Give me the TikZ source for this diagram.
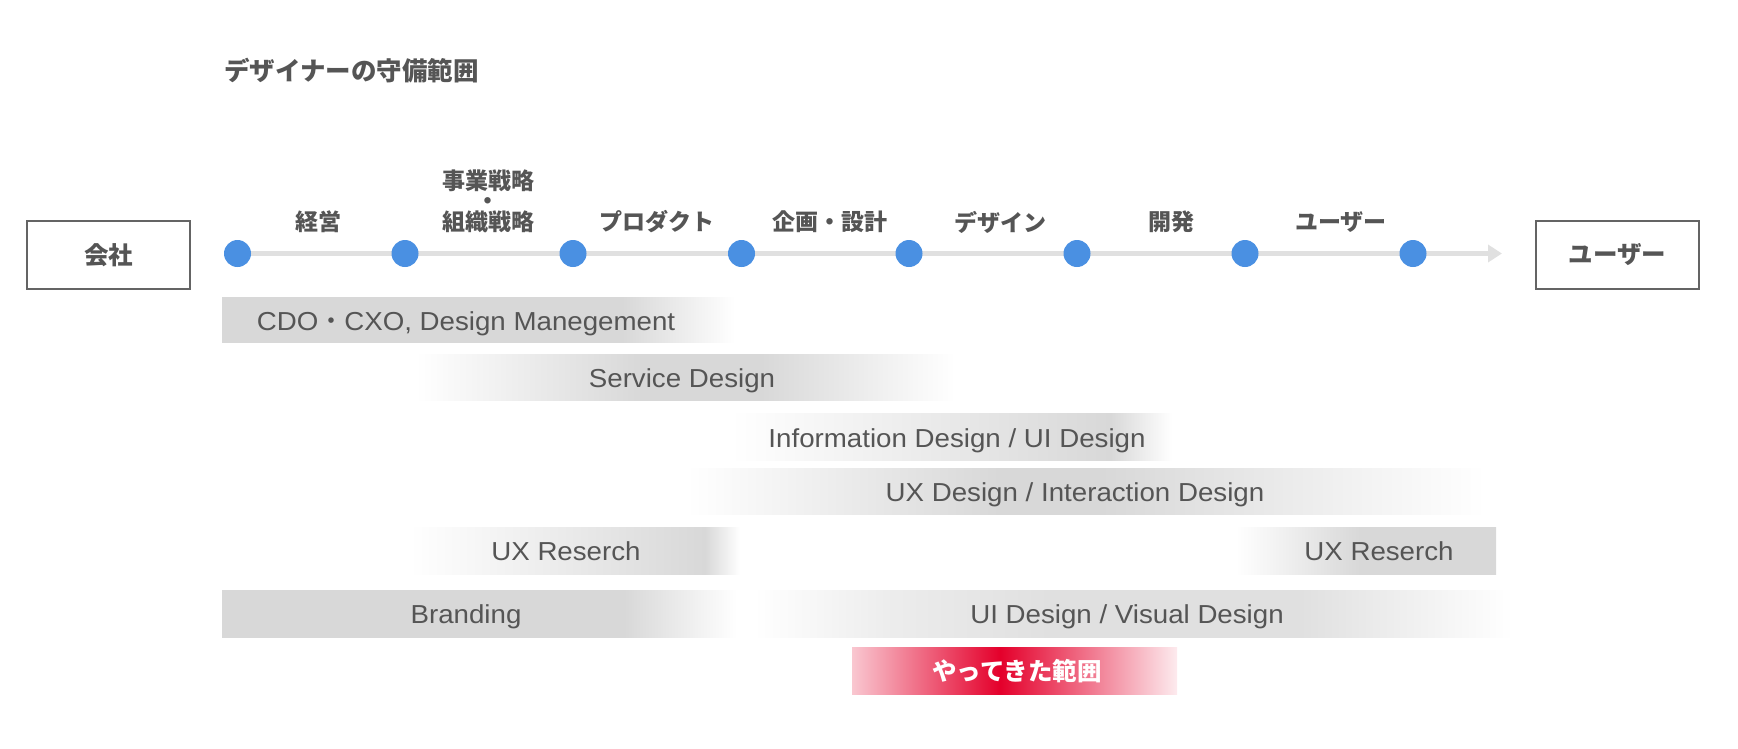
\documentclass[tikz,border=0pt]{standalone}
\usepackage{fontspec}
\setmainfont{Liberation Sans}
\newfontfamily\jp{Noto Sans CJK JP}
\newfontfamily\bartext[FakeStretch=1.065]{Liberation Sans}
\usetikzlibrary{arrows.meta,backgrounds}
\definecolor{txt}{RGB}{85,85,85}
\definecolor{barg}{RGB}{216,216,216}
\definecolor{barl}{RGB}{224,224,224}
\definecolor{dotblue}{RGB}{74,144,226}
\definecolor{linegray}{RGB}{224,224,224}
\definecolor{boxline}{RGB}{100,100,100}
\definecolor{redbar}{RGB}{228,0,43}
\pgfdeclarehorizontalshading{shA}{100bp}{color(0bp)=(barg); color(25bp)=(barg); color(64bp)=(barg); color(75bp)=(white); color(100bp)=(white)}
\pgfdeclarehorizontalshading{shB}{100bp}{color(0bp)=(white); color(25bp)=(white); color(46bp)=(barg); color(57bp)=(barg); color(75bp)=(white); color(100bp)=(white)}
\pgfdeclarehorizontalshading{shC}{100bp}{color(0bp)=(white); color(25bp)=(white); color(68bp)=(barg); color(75bp)=(white); color(100bp)=(white)}
\pgfdeclarehorizontalshading{shD}{100bp}{color(0bp)=(white); color(25bp)=(white); color(44.6bp)=(barg); color(50.9bp)=(barg); color(75bp)=(white); color(100bp)=(white)}
\pgfdeclarehorizontalshading{shE}{100bp}{color(0bp)=(white); color(25bp)=(white); color(69.7bp)=(barg); color(75bp)=(white); color(100bp)=(white)}
\pgfdeclarehorizontalshading{shF}{100bp}{color(0bp)=(white); color(25bp)=(white); color(48.8bp)=(barg); color(75bp)=(barg); color(100bp)=(barg)}
\pgfdeclarehorizontalshading{shG}{100bp}{color(0bp)=(white); color(25bp)=(white); color(34bp)=(barl!60!white); color(44.5bp)=(barl); color(61bp)=(barl); color(75bp)=(white); color(100bp)=(white)}
\pgfdeclarehorizontalshading{shR}{100bp}{color(0bp)=(redbar!22!white); color(25bp)=(redbar!22!white); color(47.8bp)=(redbar); color(75bp)=(redbar!8!white); color(100bp)=(redbar!8!white)}
\begin{document}
\begin{tikzpicture}[x=1pt,y=-1pt,
  jlabel/.style={font=\jp\bfseries\fontsize{23}{23}\selectfont, text=txt, inner sep=0pt},
  endbox/.style={draw=boxline, line width=1.6pt, minimum width=163pt, minimum height=68pt,
    font=\jp\bfseries\fontsize{24.5}{24.5}\selectfont, text=txt, inner sep=0pt},
  stage/.style={circle, fill=dotblue, minimum size=27pt, inner sep=0pt},
  bartxt/.style={font=\bartext\fontsize{26}{26}\selectfont, text=txt, inner sep=0pt, anchor=base},
  redtxt/.style={font=\jp\bfseries\fontsize{24.5}{24.5}\selectfont, text=white, inner sep=0pt},
]
\useasboundingbox (0,0) rectangle (1738,748);
% title
\node[jlabel, font=\jp\bfseries\fontsize{25.5}{25.5}\selectfont, anchor=west] (title) at (224,71) {デザイナーの守備範囲};
% end boxes
\node[endbox] (company) at (108.5,255) {会社};
\node[endbox] (user) at (1617.5,255) {ユーザー};
% stages
\node[stage] (d1) at (237.5,253.5) {};
\node[stage] (d2) at (405,253.5) {};
\node[stage] (d3) at (573,253.5) {};
\node[stage] (d4) at (741.5,253.5) {};
\node[stage] (d5) at (909,253.5) {};
\node[stage] (d6) at (1077,253.5) {};
\node[stage] (d7) at (1245,253.5) {};
\node[stage] (d8) at (1413,253.5) {};
\coordinate (tip) at (1502,253.5);
\begin{scope}[on background layer]
\draw[linegray, line width=5.5pt, -{Triangle[width=17pt,length=14pt]}] (d1.center) -- (tip);
\end{scope}
% stage labels
\node[jlabel] (l1) at (318,222) {経営};
\node[jlabel, align=center, font=\jp\bfseries\fontsize{23}{20.5}\selectfont] (l2) at (488,201) {事業戦略\\・\\組織戦略};
\node[jlabel] (l3) at (657,222) {プロダクト};
\node[jlabel] (l4) at (830,222) {企画・設計};
\node[jlabel] (l5) at (1000,222) {デザイン};
\node[jlabel] (l6) at (1171,222) {開発};
\node[jlabel] (l7) at (1341,222) {ユーザー};
% bars
\path[shading=shA] (222,297) rectangle (735,342);
\path[shading=shB] (416,354) rectangle (955,400);
\path[shading=shC] (731,413) rectangle (1172,460);
\path[shading=shD] (687,468) rectangle (1485,514);
\path[shading=shE] (410,527) rectangle (740,574);
\path[shading=shF] (1236,527) rectangle (1496,574);
\path[shading=shA] (222,590) rectangle (737,637);
\path[shading=shG] (754,590) rectangle (1513,637);
\path[shading=shR] (852,647) rectangle (1177,694);
% bar texts
\node[bartxt] (t1) at (466,330) {CDO{\jp ・}CXO, Design Manegement};
\node[bartxt] (t2) at (682,387) {Service Design};
\node[bartxt] (t3) at (957,447) {Information Design / UI Design};
\node[bartxt] (t4) at (1075,501) {UX Design / Interaction Design};
\node[bartxt] (t5) at (566,560) {UX Reserch};
\node[bartxt] (t6) at (1379,560) {UX Reserch};
\node[bartxt] (t7) at (466,623) {Branding};
\node[bartxt] (t8) at (1127,623) {UI Design / Visual Design};
\node[redtxt] (t9) at (1017,671) {やってきた範囲};
\end{tikzpicture}
\end{document}
